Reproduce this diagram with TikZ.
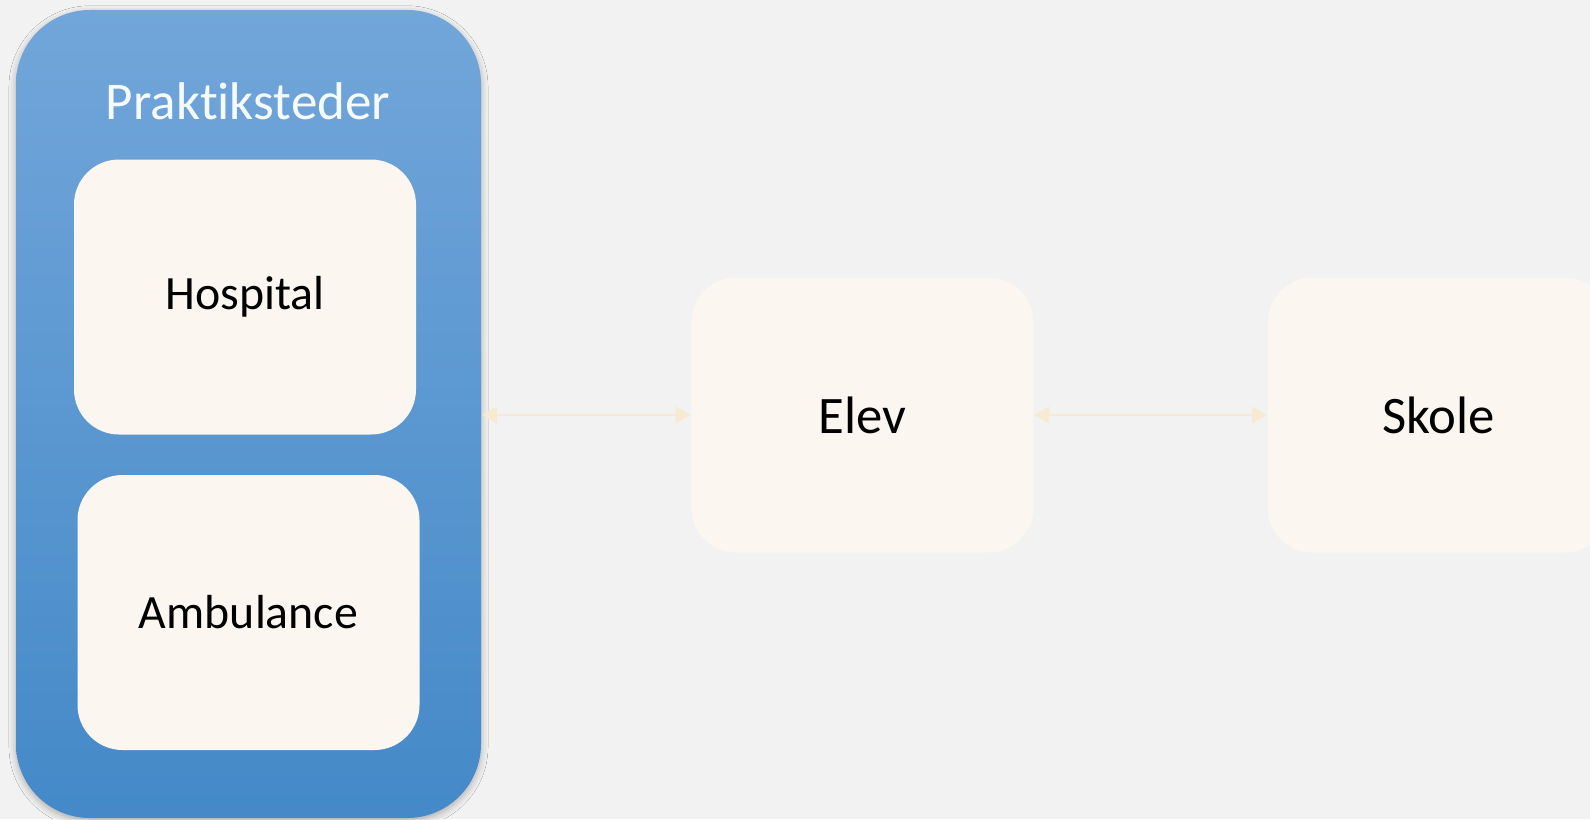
\documentclass[tikz,border=0pt]{standalone}
\usepackage{fontspec}
\setmainfont{Carlito}[Ligatures=NoCommon]
\usepackage{tikz}
\usetikzlibrary{arrows.meta,positioning,shadows.blur}
\definecolor{pageback}{HTML}{F2F2F2}
\definecolor{cardfill}{HTML}{FBF7F0}
\definecolor{blueTop}{HTML}{72A6DA}
\definecolor{blueBottom}{HTML}{4489C8}
\definecolor{linkbeige}{HTML}{F6EAD3}

\begin{document}
\begin{tikzpicture}[
    card/.style={rectangle, rounded corners=0.45cm, fill=cardfill, minimum width=3.42cm, minimum height=2.75cm, inner sep=0pt, align=center, font=\fontsize{15}{18}\selectfont},
    group/.style={rectangle, rounded corners=0.74cm, top color=blueTop, bottom color=blueBottom, minimum width=4.65cm, minimum height=8.08cm, inner sep=0pt,
        blur shadow={shadow xshift=0pt, shadow yshift=-0.8pt, shadow blur radius=2pt, shadow opacity=30}},
    link/.style={{Triangle[length=4.3pt,width=4.6pt]}-{Triangle[length=4.3pt,width=4.6pt]}, line width=0.85pt, draw=linkbeige}
]
    % Canvas
    \fill[pageback] (0,0) rectangle (15.9,8.19);
    \useasboundingbox (0,0) rectangle (15.9,8.19);

    % Left group
    \node[group] (praksis) at (2.485,4.05) {};
    \node[text=white!94!blueTop, font=\fontsize{15.1}{18}\selectfont] (title) at (2.48,7.18) {Praktiksteder};
    \node[card, font=\fontsize{13.6}{16}\selectfont] (hospital) at (2.45,5.22) {Hospital};
    \node[card, font=\fontsize{13.6}{16}\selectfont] (ambulance) at (2.485,2.065) {Ambulance};

    % Student and school
    \node[card, right=2.09cm of praksis.east, anchor=west, yshift=-0.01cm] (elev) {Elev};
    \node[card, right=2.33cm of elev] (skole) {Skole};

    % Links
    \draw[link] (praksis.east |- elev.west) -- (elev.west);
    \draw[link] (elev.east) -- (skole.west);
\end{tikzpicture}
\end{document}
